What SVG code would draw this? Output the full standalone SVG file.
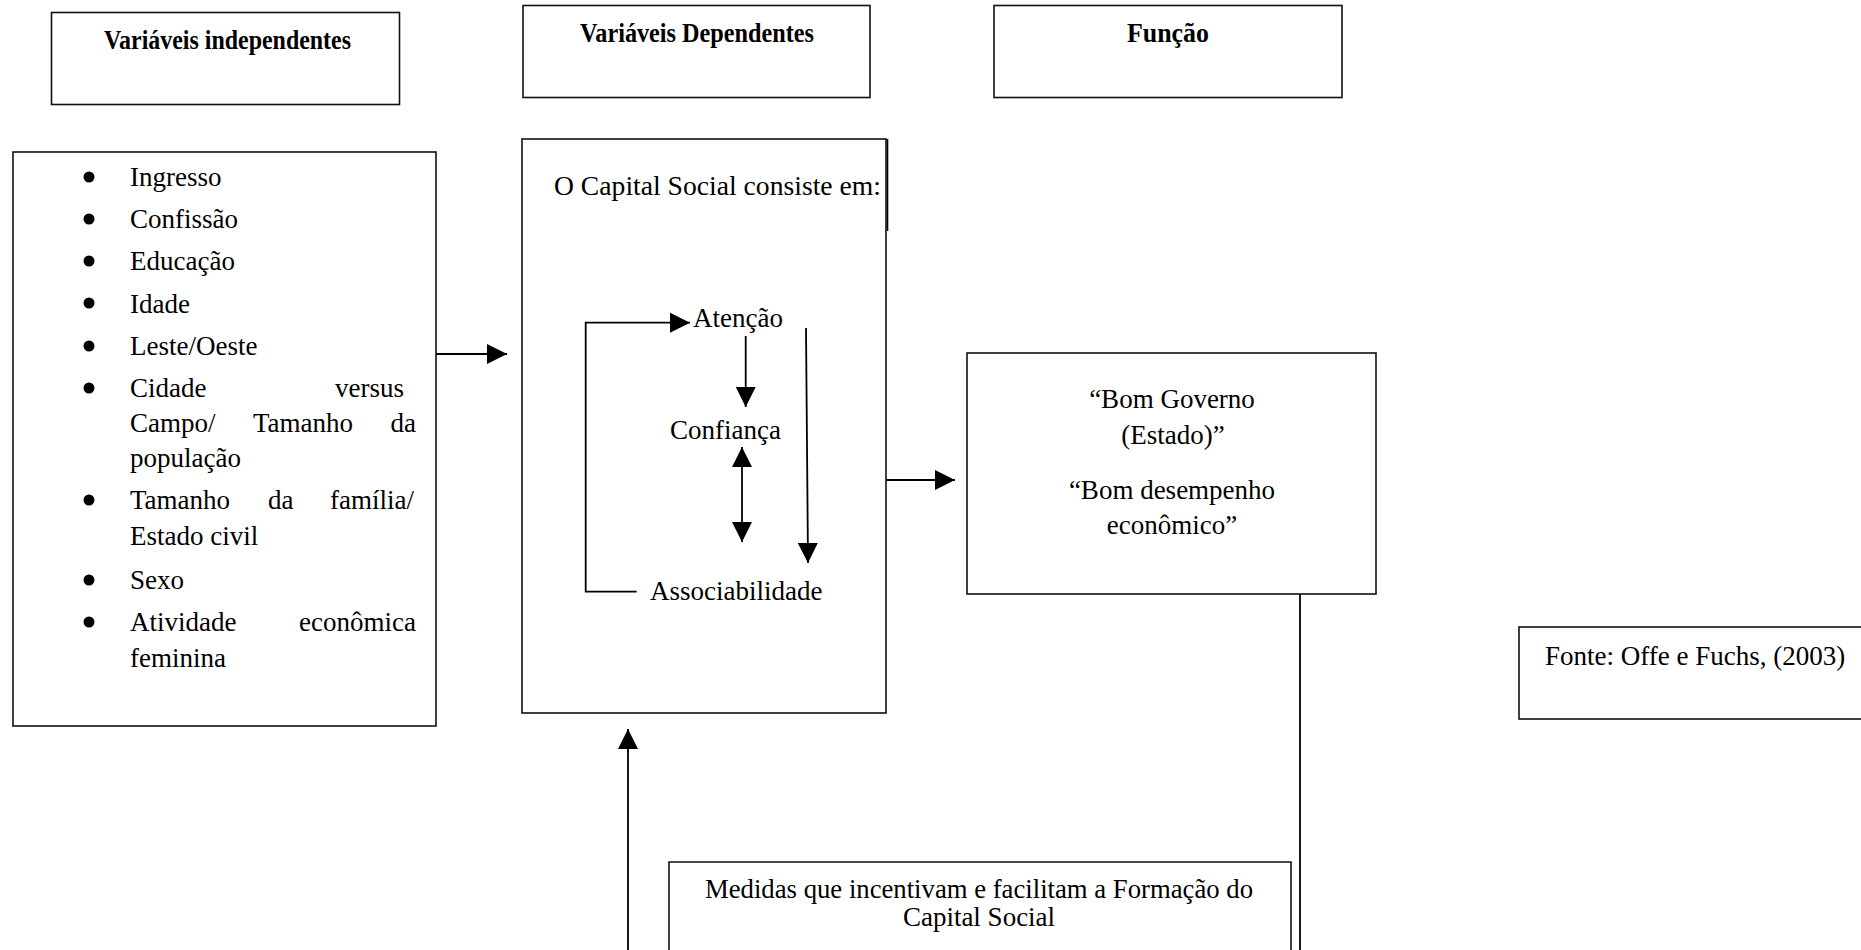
<svg xmlns="http://www.w3.org/2000/svg" width="1861" height="950" viewBox="0 0 1861 950">
<style>
.box{fill:#fff;stroke:#111;stroke-width:1.6}
.t{font-family:"Liberation Serif","Times New Roman",serif;font-size:27px;fill:#000}
.b{font-family:"Liberation Serif","Times New Roman",serif;font-size:28px;font-weight:bold;fill:#000}
.c{text-anchor:middle}
.e{text-anchor:end}
.ln{fill:none;stroke:#000;stroke-width:1.8}
.dot{fill:#000}
</style>
<defs>
<marker id="ah" markerUnits="userSpaceOnUse" markerWidth="20" markerHeight="20" refX="20" refY="10" orient="auto-start-reverse" viewBox="0 0 20 20">
<path d="M0,0 L20,10 L0,20 z" fill="#000"/>
</marker>
</defs>
<rect width="1861" height="950" fill="#fff"/>

<g id="title-indep">
<rect class="box" x="51.5" y="12.5" width="348" height="92"/>
<text class="b" x="104" y="49" textLength="247" lengthAdjust="spacingAndGlyphs">Variáveis independentes</text>
</g>
<g id="title-dep">
<rect class="box" x="523" y="5.5" width="347" height="92"/>
<text class="b" x="580" y="42" textLength="234" lengthAdjust="spacingAndGlyphs">Variáveis Dependentes</text>
</g>
<g id="title-funcao">
<rect class="box" x="994" y="5.5" width="348" height="92"/>
<text class="b" x="1127" y="42" textLength="82" lengthAdjust="spacingAndGlyphs">Função</text>
</g>

<g id="independentes">
<rect class="box" x="13" y="152" width="423" height="574"/>
<circle class="dot" cx="89" cy="177" r="5.5"/><text class="t" x="130" y="186">Ingresso</text>
<circle class="dot" cx="89" cy="219" r="5.5"/><text class="t" x="130" y="228">Confissão</text>
<circle class="dot" cx="89" cy="261" r="5.5"/><text class="t" x="130" y="270">Educação</text>
<circle class="dot" cx="89" cy="303" r="5.5"/><text class="t" x="130" y="312.5">Idade</text>
<circle class="dot" cx="89" cy="346" r="5.5"/><text class="t" x="130" y="355">Leste/Oeste</text>
<circle class="dot" cx="89" cy="388" r="5.5"/><text class="t" x="130" y="397">Cidade</text><text class="t e" x="404" y="397">versus</text>
<text class="t" x="130" y="432">Campo/</text><text class="t" x="253" y="432">Tamanho</text><text class="t e" x="416" y="432">da</text>
<text class="t" x="130" y="467">população</text>
<circle class="dot" cx="89" cy="500" r="5.5"/><text class="t" x="130" y="509">Tamanho</text><text class="t" x="268" y="509">da</text><text class="t e" x="414" y="509">família/</text>
<text class="t" x="130" y="545">Estado civil</text>
<circle class="dot" cx="89" cy="580" r="5.5"/><text class="t" x="130" y="589">Sexo</text>
<circle class="dot" cx="89" cy="622" r="5.5"/><text class="t" x="130" y="631">Atividade</text><text class="t e" x="416" y="631">econômica</text>
<text class="t" x="130" y="667">feminina</text>
</g>

<g id="capital-social">
<rect class="box" x="522" y="139" width="364" height="574"/>
<line x1="887.5" y1="139" x2="887.5" y2="231" stroke="#000" stroke-width="1.6"/>
<text class="t" x="554" y="195" font-size="27.5" textLength="327" lengthAdjust="spacingAndGlyphs">O Capital Social consiste em:</text>
<text class="t" x="693" y="327">Atenção</text>
<text class="t" x="670" y="439">Confiança</text>
<text class="t" x="650" y="600">Associabilidade</text>
<path class="ln" d="M636.7,591.7 H585.7 V322.7 H690" marker-end="url(#ah)"/>
<line class="ln" x1="745.7" y1="336" x2="745.7" y2="407" marker-end="url(#ah)"/>
<line class="ln" x1="742" y1="447" x2="742" y2="542" marker-start="url(#ah)" marker-end="url(#ah)"/>
<line class="ln" x1="806" y1="328" x2="808" y2="563" marker-end="url(#ah)"/>
</g>

<g id="funcao">
<rect class="box" x="967" y="353" width="409" height="241"/>
<text class="t c" x="1172" y="408">“Bom Governo</text>
<text class="t c" x="1173" y="444">(Estado)”</text>
<text class="t c" x="1172" y="499">“Bom desempenho</text>
<text class="t c" x="1172" y="534">econômico”</text>
</g>

<g id="medidas">
<path class="box" d="M669,955 V862 H1291 V955"/>
<text class="t c" x="979" y="898" textLength="548" lengthAdjust="spacingAndGlyphs">Medidas que incentivam e facilitam a Formação do</text>
<text class="t c" x="979" y="926">Capital Social</text>
</g>

<g id="fonte">
<rect class="box" x="1519" y="627" width="360" height="92"/>
<text class="t" x="1545" y="665">Fonte: Offe e Fuchs, (2003)</text>
</g>

<g id="connectors">
<line class="ln" x1="436" y1="354" x2="507" y2="354" marker-end="url(#ah)"/>
<line class="ln" x1="886" y1="480" x2="955" y2="480" marker-end="url(#ah)"/>
<line class="ln" x1="1300" y1="594" x2="1300" y2="955"/>
<line class="ln" x1="628" y1="955" x2="628" y2="729" marker-end="url(#ah)"/>
</g>
</svg>
